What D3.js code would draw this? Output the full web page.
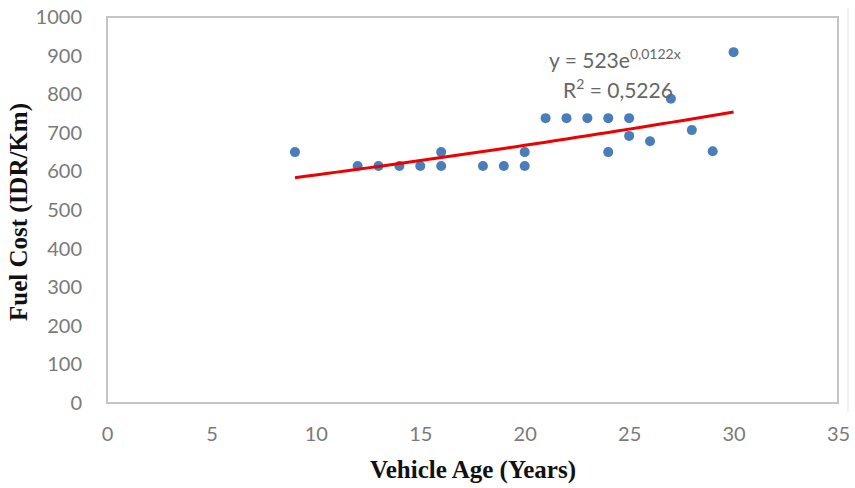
<!DOCTYPE html>
<html>
<head>
<meta charset="utf-8">
<script src="https://cdn.jsdelivr.net/npm/d3@7"></script>
<style>
  body { margin: 0; background: #fff; }
  svg { display: block; }
</style>
</head>
<body>
<div id="chart"></div>
<script>
// vehicle age (years) and fuel cost (IDR/Km)
var ages  = [9, 12, 13, 14, 15, 16, 16, 18, 19, 20, 20, 21, 22, 23, 24, 24, 25, 25, 26, 27, 28, 29, 30];
var costs = [650, 614, 614, 614, 614, 614, 650, 614, 614, 614, 650, 738, 738, 738, 738, 650, 738, 692, 678, 788, 707, 652, 909];

// exponential trendline y = a * e^(b x)
var trendA = 523, trendB = 0.0122;
var trendRange = [9, 30];

var xTicks = [0, 5, 10, 15, 20, 25, 30, 35];
var yTicks = [0, 100, 200, 300, 400, 500, 600, 700, 800, 900, 1000];

var width = 855, height = 488;
var margin = {top: 17, right: 17, bottom: 85, left: 107};

var svg = d3.select("#chart")
    .append("svg")
    .attr("width", width)
    .attr("height", height);

var x = d3.scaleLinear()
    .domain([0, 35])
    .range([margin.left, width - margin.right]);

var y = d3.scaleLinear()
    .domain([0, 1000])
    .range([height - margin.bottom, margin.top]);

// outer chart border (faint)
svg.append("line")
    .attr("x1", 848).attr("x2", 848)
    .attr("y1", 8).attr("y2", 412)
    .attr("stroke", "#ececec")
    .attr("stroke-width", 1.5);

// plot area frame
svg.append("rect")
    .attr("x", x(0))
    .attr("y", y(1000))
    .attr("width", x(35) - x(0))
    .attr("height", y(0) - y(1000))
    .attr("fill", "none")
    .attr("stroke", "#c4c4c4")
    .attr("stroke-width", 2);

// axes
var xAxis = svg.append("g")
    .attr("transform", "translate(0," + y(0) + ")")
    .call(d3.axisBottom(x).tickValues(xTicks).tickSize(0).tickPadding(24));
var yAxis = svg.append("g")
    .attr("transform", "translate(" + x(0) + ",0)")
    .call(d3.axisLeft(y).tickValues(yTicks).tickFormat(d3.format("d")).tickSize(0).tickPadding(25));

[xAxis, yAxis].forEach(function (g) {
    g.select(".domain").remove();
    g.selectAll("text")
        .attr("fill", "#7a7a7a")
        .style("font-family", "Lato, 'Open Sans', sans-serif")
        .style("font-size", "20px");
});

// points
svg.append("g")
    .selectAll("circle")
    .data(ages)
    .enter()
    .append("circle")
    .attr("cx", function (d) { return x(d) })
    .attr("cy", function (d, i) { return y(costs[i]) })
    .attr("r", 5)
    .attr("fill", "#4a7ebb");

// trendline
var trendX = d3.range(trendRange[0], trendRange[1] + 0.01, 0.5);
svg.append("path")
    .datum(trendX)
    .attr("fill", "none")
    .attr("stroke", "#ee0000")
    .attr("stroke-width", 3)
    .attr("d", d3.line()
        .x(function (d) { return x(d) })
        .y(function (d) { return y(trendA * Math.exp(trendB * d)) }));

// equation label
var eq = svg.append("text")
    .attr("x", 549)
    .attr("y", 68)
    .attr("fill", "#666")
    .style("font-family", "Lato, 'Open Sans', sans-serif")
    .style("font-size", "21px");
eq.append("tspan").text("y = 523e");
eq.append("tspan")
    .attr("dy", -9)
    .style("font-size", "14px")
    .text("0,0122x");

var r2 = svg.append("text")
    .attr("x", 563)
    .attr("y", 98)
    .attr("fill", "#666")
    .style("font-family", "Lato, 'Open Sans', sans-serif")
    .style("font-size", "21px");
r2.append("tspan").text("R");
r2.append("tspan").attr("dy", -9).style("font-size", "14px").text("2");
r2.append("tspan").attr("dy", 9).text(" = 0,5226");

// axis titles
svg.append("text")
    .attr("x", 473)
    .attr("y", 478)
    .attr("text-anchor", "middle")
    .style("font-family", "'Liberation Serif', 'Times New Roman', serif")
    .style("font-weight", "bold")
    .style("font-size", "25px")
    .attr("fill", "#111")
    .text("Vehicle Age (Years)");

svg.append("text")
    .attr("transform", "translate(27,212) rotate(-90)")
    .attr("text-anchor", "middle")
    .style("font-family", "'Liberation Serif', 'Times New Roman', serif")
    .style("font-weight", "bold")
    .style("font-size", "25px")
    .attr("fill", "#111")
    .text("Fuel Cost (IDR/Km)");
</script>
</body>
</html>
